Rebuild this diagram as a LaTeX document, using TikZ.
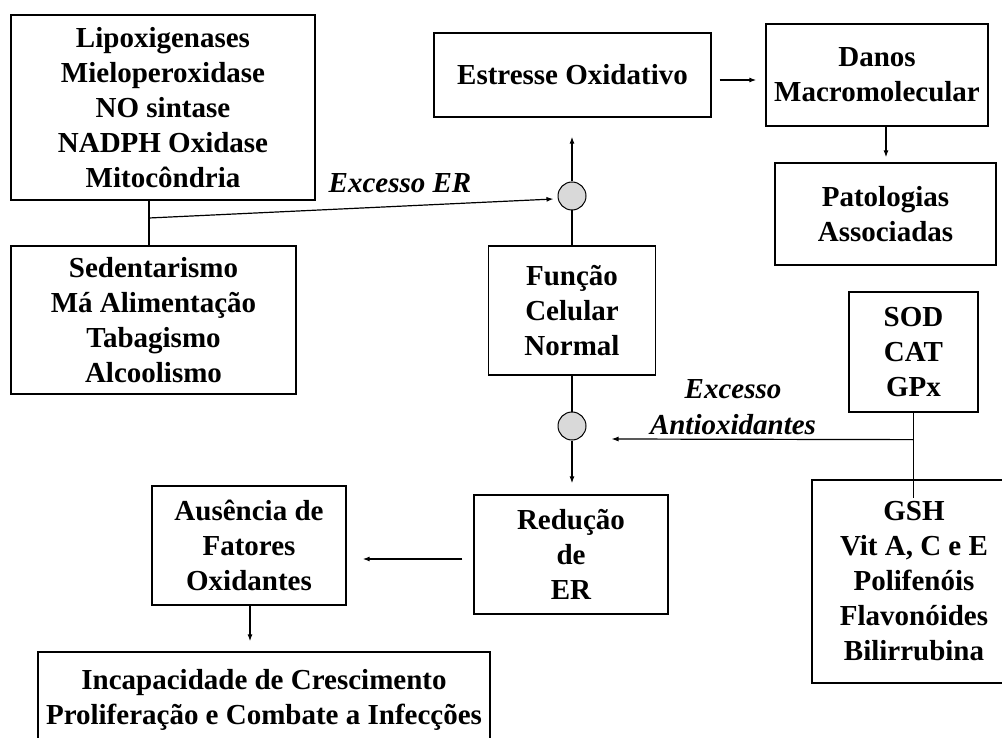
\documentclass[tikz,border=0pt]{standalone}
\usepackage{fontspec}
\setmainfont{Liberation Serif}
\usetikzlibrary{arrows.meta,calc}
\begin{document}
\begin{tikzpicture}[x=1pt,y=-1pt,
  box/.style={draw,line width=1.3pt,inner sep=0pt,align=center,font=\fontsize{29}{35}\selectfont\bfseries},
  lab/.style={inner sep=0pt,align=center,font=\fontsize{29}{36}\selectfont\bfseries\itshape},
  junc/.style={circle,draw,fill=black!15,minimum size=28pt,inner sep=0pt,line width=1pt},
  arr/.style={-{Latex[length=7pt,width=5pt]},line width=1.2pt},
  ln/.style={line width=1.2pt}]
\useasboundingbox (0,0) rectangle (1002,738);
\clip (0,0) rectangle (1002,738);
\fill[white] (0,0) rectangle (1002,738);

\node[box,minimum width=304pt,minimum height=185pt] (lip) at (163,107.5)
  {Lipoxigenases\\Mieloperoxidase\\NO sintase\\NADPH Oxidase\\Mitocôndria};
\node[box,minimum width=285pt,minimum height=148pt] (sed) at (153.5,320)
  {Sedentarismo\\Má Alimentação\\Tabagismo\\Alcoolismo};
\node[box,minimum width=277pt,minimum height=84pt] (est) at (572.5,75)
  {Estresse Oxidativo};
\node[box,minimum width=222pt,minimum height=102pt] (dan) at (877,75)
  {Danos\\Macromolecular};
\node[box,minimum width=221pt,minimum height=102pt] (pat) at (885.5,214)
  {Patologias\\Associadas};
\node[box,minimum width=167pt,minimum height=129pt] (fun) at (572,310.5)
  {Função\\Celular\\Normal};
\node[box,minimum width=129pt,minimum height=120pt] (sod) at (913.5,352)
  {SOD\\CAT\\GPx};
\node[box,minimum width=204pt,minimum height=203pt] (gsh) at (914,581.5)
  {GSH\\Vit A, C e E\\Polifenóis\\Flavonóides\\Bilirrubina};
\node[box,minimum width=194pt,minimum height=119pt] (red) at (571,554.5)
  {Redução\\de\\ER};
\node[box,minimum width=194pt,minimum height=119pt] (aus) at (249,545.5)
  {Ausência de\\Fatores\\Oxidantes};
\node[box,minimum width=452pt,minimum height=96pt] (inc) at (264,700)
  {Incapacidade de Crescimento\\Proliferação e Combate a Infecções};

\node[junc] (c1) at (572,196) {};
\node[junc] (c2) at (572,426) {};

\node[lab] (l1) at (400,183) {Excesso ER};
\node[lab] (l2) at (733,407) {Excesso\\Antioxidantes};

% connectors
\coordinate (j) at (149,218);
\draw[ln] (j |- lip.south) -- (j |- sed.north);
\draw[arr] (j) -- ($(c1.west)+(-4,3)$);
\draw[arr] (c1.north) -- ($(c1.north |- est.south)+(0,19)$);
\draw[ln] (fun.north) -- (c1.south);
\draw[ln] (fun.south) -- (c2.north);
\draw[arr] (c2.south) -- ($(c2.south |- red.north)+(0,-11)$);
\draw[ln] (sod.south) -- ($(sod.south)+(0,85)$);
\coordinate (h) at ($(sod.south)+(0,27)$);
\draw[arr] (h) -- ($(c2.east)+(25,13)$);
\draw[arr] ($(est.east)+(8,5)$) -- ($(dan.west)+(-9,5)$);
\draw[arr] ($(dan.south)+(9,0)$) -- ($(pat.north)+(0.5,-5)$);
\draw[arr] ($(red.west)+(-11,4.5)$) -- ($(aus.east)+(16,13.5)$);
\draw[arr] ($(aus.south)+(1,0)$) -- ($(inc.north -| aus.south)+(1,-10)$);
\end{tikzpicture}
\end{document}
